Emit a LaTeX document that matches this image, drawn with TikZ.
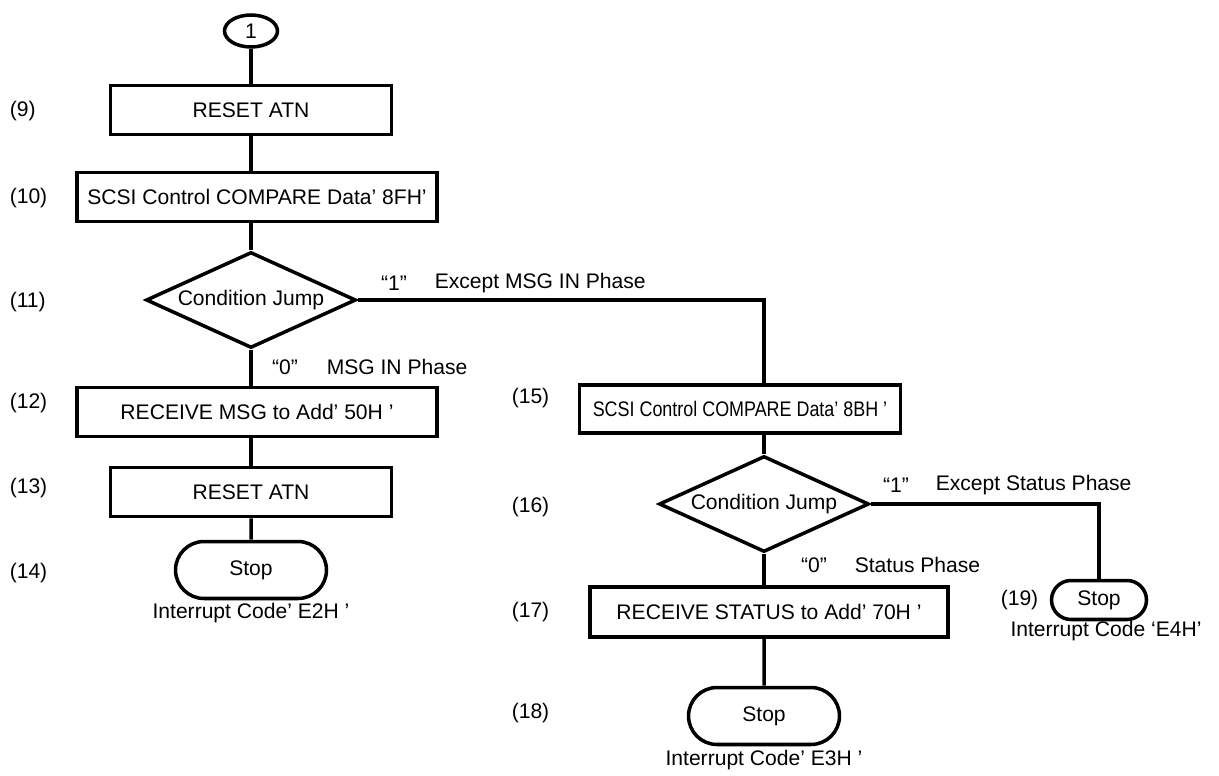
\documentclass[tikz,border=0pt]{standalone}
\usepackage{fontspec}
\setmainfont{Liberation Sans}
\usepackage{graphicx}
\usetikzlibrary{shapes.geometric,shapes.misc}

\begin{document}
\begin{tikzpicture}[x=0.02cm,y=-0.02cm,font=\fontsize{12}{14}\selectfont,line width=2pt,
  proc/.style={draw,rectangle,inner sep=0pt,minimum height=0.98cm},
  jump/.style={draw,diamond,aspect=2.2,inner sep=0pt,minimum width=4.2cm,minimum height=1.92cm},
  halt/.style={draw,rounded rectangle,inner sep=0pt},
  num/.style={anchor=west,inner sep=0pt},
  txt/.style={inner sep=0pt}]
\useasboundingbox (0,0) rectangle (1219,776);
% left column
\node[draw,ellipse,inner sep=0pt,minimum width=1.06cm,minimum height=0.64cm] (c1) at (251,31) {1};
\node[proc,minimum width=5.62cm] (b9) at (251,110) {RESET ATN};
\node[proc,minimum width=7.2cm] (b10) at (257,197) {SCSI Control COMPARE Data’ 8FH’};
\node[jump] (d11) at (251,300) {Condition Jump};
\node[proc,minimum width=7.2cm] (b12) at (257,412) {RECEIVE MSG to Add’ 50H ’};
\node[proc,minimum width=5.62cm] (b13) at (251,492) {RESET ATN};
\node[halt,minimum width=3.02cm,minimum height=1.14cm] (s14) at (251,570) {Stop};
\node[txt] (i14) at (251,613) {Interrupt Code’ E2H ’};
% right column
\node[proc,minimum width=6.42cm,minimum height=0.96cm] (b15) at (740,409) {\scalebox{0.85}[1]{SCSI Control COMPARE Data’ 8BH ’}};
\node[jump] (d16) at (764,504) {Condition Jump};
\node[proc,minimum width=7.16cm,minimum height=1cm] (b17) at (769,612) {RECEIVE STATUS to Add’ 70H ’};
\node[halt,minimum width=3.02cm,minimum height=1.14cm] (s18) at (764,716) {Stop};
\node[txt] (i18) at (764,760) {Interrupt Code’ E3H ’};
\node[halt,minimum width=1.9cm,minimum height=0.78cm] (s19) at (1099,600) {Stop};
\node[txt] (i19) at (1106,631) {Interrupt Code ‘E4H’};
% step numbers
\foreach \n/\y in {9/111,10/198,11/302,12/403,13/488,14/573}
  \node[num] (n\n) at (8,\y) {(\n)};
\foreach \n/\y in {15/398,16/507,17/612,18/713}
  \node[num] (n\n) at (510,\y) {(\n)};
\node[txt,anchor=east] (n19) at (1040,600) {(19)};
% branch texts
\node[txt] (q11) at (394,283) {“1”};
\node[num] (e11) at (433,283) {Except MSG IN Phase};
\node[txt] (z11) at (285,367) {“0”};
\node[num] (m11) at (325,367) {MSG IN Phase};
\node[txt] (q16) at (896,485) {“1”};
\node[num] (e16) at (934,485) {Except Status Phase};
\node[txt] (z16) at (814,565) {“0”};
\node[num] (m16) at (853,565) {Status Phase};
% connectors
\draw (c1) -- (b9);
\draw (b9) -- (b9 |- b10.north);
\draw (b9 |- b10.south) -- (d11);
\draw (d11) -- (d11 |- b12.north);
\draw (d11 |- b12.south) -- (b13);
\draw (b13) -- (s14);
\draw (d11.east) -| (d16 |- b15.north);
\draw (d16 |- b15.south) -- (d16);
\draw (d16) -- (d16 |- b17.north);
\draw (d16 |- b17.south) -- (s18);
\draw (d16.east) -| (s19);
\end{tikzpicture}
\end{document}
